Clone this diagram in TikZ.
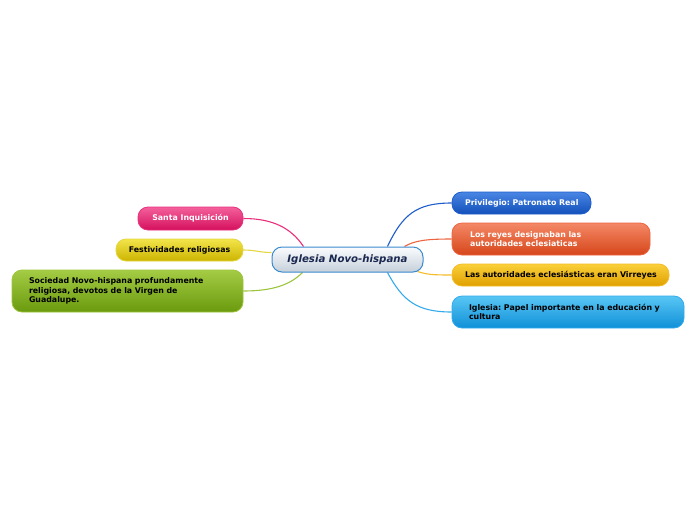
\documentclass[tikz,border=0pt]{standalone}
\usepackage{fontspec}
\setmainfont{DejaVu Sans}
\frenchspacing
\usetikzlibrary{calc,backgrounds}
\definecolor{pinkT}{HTML}{F4609C}\definecolor{pinkB}{HTML}{D4105C}\definecolor{pinkL}{HTML}{E8307C}
\definecolor{yelT}{HTML}{F2E44A}\definecolor{yelB}{HTML}{CCB400}\definecolor{yelL}{HTML}{E4D640}
\definecolor{grnT}{HTML}{A4CC44}\definecolor{grnB}{HTML}{6A9A0E}\definecolor{grnL}{HTML}{9CC43C}
\definecolor{bluT}{HTML}{4A86E4}\definecolor{bluB}{HTML}{1250BA}\definecolor{bluL}{HTML}{1E5CCC}
\definecolor{oraT}{HTML}{F48866}\definecolor{oraB}{HTML}{D6461A}\definecolor{oraL}{HTML}{EC6440}
\definecolor{ambT}{HTML}{FAD03A}\definecolor{ambB}{HTML}{E0A000}\definecolor{ambL}{HTML}{F4BC28}
\definecolor{cyaT}{HTML}{58C6F4}\definecolor{cyaB}{HTML}{1090D8}\definecolor{cyaL}{HTML}{34AAEA}
\definecolor{cenT}{HTML}{FAFCFE}\definecolor{cenB}{HTML}{C6D0DA}\definecolor{cenL}{HTML}{3A8AD0}
\definecolor{cenText}{HTML}{1A2850}
\tikzset{
  pill/.style n args={3}{rounded corners=10pt, draw=#3, line width=0.8pt, top color=#1, bottom color=#2,
     inner sep=0pt, font=\fontsize{7.85}{9.6}\selectfont\bfseries},
  conn/.style={line width=1.1pt, #1}
}
\begin{document}
\begin{tikzpicture}[x=1pt,y=-1pt]
\useasboundingbox (0,0) rectangle (696,520);
% central
\node[pill={cenT}{cenB}{cenL}, line width=1pt, minimum width=151pt, minimum height=25pt,
      font=\fontsize{10.2}{12}\selectfont\bfseries\itshape, text=cenText] (c) at (347.5,259.5) {Iglesia Novo-hispana};
% left
\node[pill={pinkT}{pinkB}{pinkL}, minimum width=105pt, minimum height=23pt, text=white] (s) at (190.5,218.5) {Santa Inquisición};
\node[pill={yelT}{yelB}{yelL}, minimum width=127pt, minimum height=22pt, text=black] (f) at (179.5,250) {Festividades religiosas};
\node[pill={grnT}{grnB}{grnL}, minimum width=231pt, minimum height=42pt, text=black, align=left,
      text width=197pt] (g) at (127.5,291) {Sociedad Novo-hispana profundamente\\religiosa, devotos de la Virgen de\\Guadalupe.};
% right
\node[pill={bluT}{bluB}{bluL}, minimum width=139pt, minimum height=22pt, text=white, align=left,
      text width=113pt] (p) at (521.5,203) {\mbox{Privilegio: Patronato Real}};
\node[pill={oraT}{oraB}{oraL}, minimum width=198pt, minimum height=32pt, text=white, align=left,
      text width=162pt] (r) at (551,239) {Los reyes designaban las\\autoridades eclesiaticas};
\node[pill={ambT}{ambB}{ambL}, minimum width=217pt, minimum height=22pt, text=black, align=left,
      text width=191pt] (a) at (560.5,275) {\mbox{Las autoridades eclesiásticas eran Virreyes}};
\node[pill={cyaT}{cyaB}{cyaL}, minimum width=232pt, minimum height=32pt, text=black, align=left,
      text width=198pt] (i) at (568,312) {\mbox{Iglesia: Papel importante en la educación y}\\cultura};
\begin{pgfonlayer}{background}
\draw[conn=pinkL] ($(c.north)+(-44,0)$) .. controls +(-12,-18) and +(30,0) .. (s.east);
\draw[conn=yelL] ($(c.west)+(0,-7)$) .. controls +(-12,0) and +(12,0) .. (f.east);
\draw[conn=grnL] ($(c.south)+(-45,0)$) .. controls +(-12,12) and +(30,0) .. (g.east);
\draw[conn=bluL] ($(c.north)+(40,0)$) .. controls +(15,-32) and +(-35,0) .. (p.west);
\draw[conn=oraL] ($(c.north)+(57,0)$) .. controls +(10,-6) and +(-25,0) .. (r.west);
\draw[conn=ambL] ($(c.south east)+(-6,-1)$) .. controls +(10,3) and +(-20,0) .. (a.west);
\draw[conn=cyaL] ($(c.south)+(40,0)$) .. controls +(15,28) and +(-35,0) .. (i.west);
\end{pgfonlayer}
\end{tikzpicture}
\end{document}
